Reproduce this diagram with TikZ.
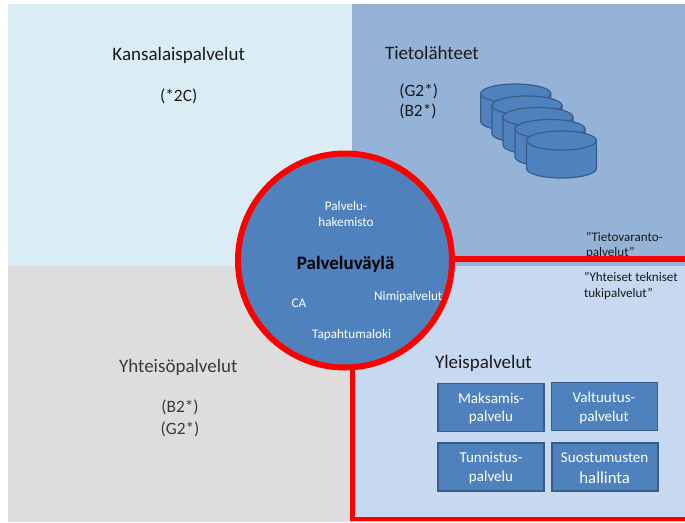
\documentclass[tikz,border=0pt]{standalone}
\usepackage{fontspec}
\usetikzlibrary{calc}
\setmainfont{Carlito}
\definecolor{panelA}{HTML}{DBEDF4}
\definecolor{panelB}{HTML}{95B3D7}
\definecolor{panelC}{HTML}{DDDDDD}
\definecolor{panelD}{HTML}{C6D9F1}
\definecolor{blueFill}{HTML}{4F81BD}
\definecolor{blueEdge}{HTML}{385D8A}
\definecolor{inkDark}{HTML}{1A1A1A}
\definecolor{inkGrey}{HTML}{3A3A3A}
\tikzset{
  heading/.style={inner sep=0pt,outer sep=0pt,text=inkDark,font=\fontsize{14.25}{16}\selectfont},
  codes/.style={inner sep=0pt,outer sep=0pt,text=inkDark,font=\fontsize{13}{15}\selectfont},
  note/.style={inner sep=0pt,outer sep=0pt,text=inkDark,font=\fontsize{9.8}{12}\selectfont},
  small/.style={inner sep=0pt,outer sep=0pt,text=white,font=\fontsize{9.9}{12}\selectfont},
  boxtext/.style={inner sep=0pt,outer sep=0pt,text=white,font=\fontsize{11.3}{13}\selectfont},
  svcbox/.style={draw=blueEdge,line width=1.1pt,fill=blueFill,inner sep=0pt,outer sep=0pt,minimum width=79.5pt,minimum height=36pt},
  drum/.style={draw=blueEdge,line width=0.9pt,fill=blueFill},
  redline/.style={draw=red,line width=#1,line cap=butt,line join=miter},
}
\begin{document}
\begin{tikzpicture}[x=0.75pt,y=-0.75pt]
\useasboundingbox (0,0) rectangle (685,522);
% panels
\fill[panelA] (8,4) rectangle (352,266);
\fill[panelB] (352,4) rectangle (685,266);
\fill[panelC] (8,266) rectangle (352,522);
% text partly hidden by the lower right panel
\node[note,anchor=base west] (q1) at (586,241.7) {”Tietovaranto-};
\node[note,anchor=base west] (q2) at (586,256.5) {palvelut”};
\fill[panelD] (352,266) rectangle (685,522);
% panel titles
\node[heading,anchor=base] (t1) at (178.7,60) {Kansalaispalvelut};
\node[codes,anchor=base] (t1b) at (178.7,101.7) {(*2C)};
\node[heading,anchor=base west] (t2) at (385,59.3) {Tietolähteet};
\node[codes,anchor=base west] (t2a) at (399.3,96) {(G2*)};
\node[codes,anchor=base west] (t2b) at (399.3,116.7) {(B2*)};
\node[heading,anchor=base,text=inkGrey] (t3) at (178.3,372.7) {Yhteisöpalvelut};
\node[codes,anchor=base,text=inkGrey] (t3a) at (180,412.7) {(B2*)};
\node[codes,anchor=base,text=inkGrey] (t3b) at (180,434.3) {(G2*)};
\node[heading,anchor=base west] (t4) at (435,368.3) {Yleispalvelut};
\node[note,anchor=base west] (q3) at (584,281.7) {”Yhteiset tekniset};
\node[note,anchor=base west] (q4) at (584,297.7) {tukipalvelut”};
% data sources
\foreach \cx/\cy in {515.7/93.5,527/105.5,538/117,550/129,561.5/140.5}{
  \draw[drum] (\cx-35,\cy) -- (\cx-35,\cy+28) arc[start angle=180,end angle=0,x radius=35,y radius=9.5] -- (\cx+35,\cy) -- cycle;
  \draw[drum] (\cx,\cy) ellipse[x radius=35,y radius=9.5];
}
% red boundary and bus
\node[circle,draw=red,line width=4.5pt,fill=blueFill,minimum size=160.5pt,inner sep=0pt,outer sep=0pt] (bus) at (345,260.5) {};
\coordinate (r1) at (685,258.7);
\coordinate (r2) at (352.7,519);
\coordinate (r3) at (685,519);
\draw[redline=4.5pt] (bus.east |- r1) -- (r1);
\draw[redline=3.8pt] (r2 |- bus.south) -- ($(r2)+(0,1)$);
\draw[redline=2.4pt] ($(r2)+(-2.5,0)$) -- (r3);
% bus labels
\node[small,anchor=base] (b1) at (346,210) {Palvelu-};
\node[small,anchor=base] (b2) at (346,226) {hakemisto};
\node[anchor=base,inner sep=0pt,text=black,font=\bfseries\fontsize{14.2}{16}\selectfont] (b3) at (345.7,269.3) {Palveluväylä};
\node[small,anchor=base] (b4) at (299,307.3) {CA};
\node[small,anchor=base] (b5) at (408.3,300.7) {Nimipalvelut};
\node[small,anchor=base] (b6) at (351.7,338.3) {Tapahtumaloki};
% service boxes
\node[svcbox] (s1) at (491.2,407.3) {};
\node[svcbox] (s2) at (604.7,406.7) {};
\node[svcbox] (s3) at (491.2,467.2) {};
\node[svcbox] (s4) at (605.2,467.2) {};
\node[boxtext,anchor=base] (m1) at (491,403.3) {Maksamis-};
\node[boxtext,anchor=base] (m2) at (491,421.7) {palvelu};
\node[boxtext,anchor=base] (v1) at (604,402.7) {Valtuutus-};
\node[boxtext,anchor=base] (v2) at (604,421) {palvelut};
\node[boxtext,anchor=base] (u1) at (491,462.7) {Tunnistus-};
\node[boxtext,anchor=base] (u2) at (491,481) {palvelu};
\node[boxtext,anchor=base] (h1) at (604.7,462) {Suostumusten};
\node[boxtext,anchor=base,font=\fontsize{12.6}{14}\selectfont] (h2) at (604.7,483.3) {hallinta};
\end{tikzpicture}
\end{document}
